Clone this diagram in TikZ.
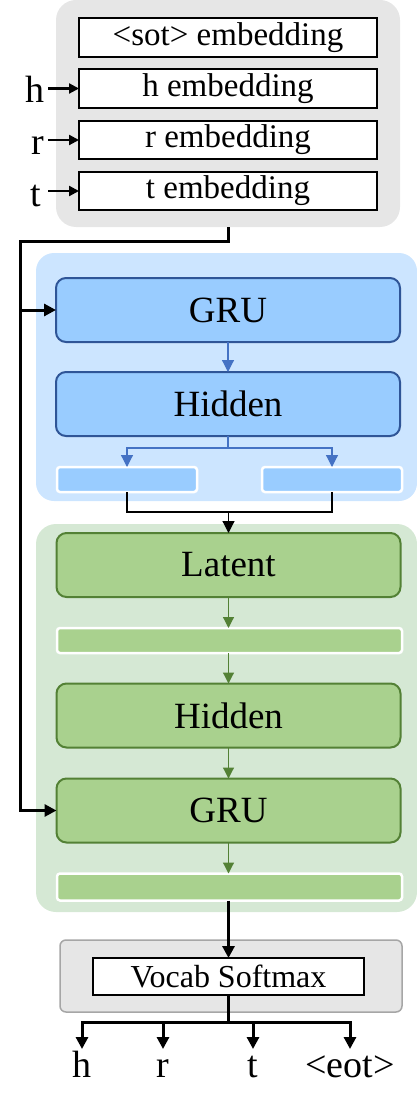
\documentclass[tikz,border=0pt]{standalone}
\usepackage{fontspec}
\setmainfont{Liberation Serif}
\usetikzlibrary{arrows.meta,calc}
\definecolor{grayc}{HTML}{E6E6E6}
\definecolor{grayb}{HTML}{A6A6A6}
\definecolor{bluec}{HTML}{CCE5FF}
\definecolor{bluef}{HTML}{99CCFF}
\definecolor{blueb}{HTML}{2F5597}
\definecolor{bluea}{HTML}{4472C4}
\definecolor{greenc}{HTML}{D5E8D4}
\definecolor{greenf}{HTML}{A9D18E}
\definecolor{greenb}{HTML}{538135}
\begin{document}
\begin{tikzpicture}[x=1pt,y=-1pt,
  every node/.style={inner sep=0pt, outer sep=0pt},
  cont/.style={rectangle, rounded corners=#1},
  embbox/.style={draw=black, line width=2pt, fill=white, minimum width=298, minimum height=38.5, font=\fontsize{33}{36}\selectfont},
  bbox/.style={draw=blueb, line width=2pt, fill=bluef, rounded corners=10, minimum width=344, minimum height=64, font=\fontsize{37}{40}\selectfont},
  gbox/.style={draw=greenb, line width=2pt, fill=greenf, rounded corners=10, minimum width=344, minimum height=64, font=\fontsize{37}{40}\selectfont},
  bbar/.style={draw=white, line width=2.5pt, fill=bluef, rounded corners=3, minimum width=140, minimum height=25},
  gbar/.style={draw=white, line width=2.5pt, fill=greenf, rounded corners=3, minimum width=345, minimum height=25},
  lbl/.style={font=\fontsize{38}{40}\selectfont, text height=28pt, text depth=8pt},
  blk/.style={draw=black, line width=3pt, -{Triangle[width=12pt,length=12pt]}},
  sblk/.style={draw=black, line width=2.2pt, -{Triangle[width=10pt,length=10pt]}},
  barr/.style={draw=bluea, line width=1.2pt, -{Triangle[width=12pt,length=12pt]}},
  garr/.style={draw=greenb, line width=1.2pt, -{Triangle[width=11pt,length=11pt]}},
  tarr/.style={draw=black, line width=1.2pt, -{Triangle[width=12pt,length=12pt]}}
]
\useasboundingbox (0,0) rectangle (417,1110);

% top embedding block
\node[cont=20, fill=grayc, minimum width=344, minimum height=227] (top) at (228,113.5) {};
\node[embbox] (sot) at (228,37.5) {<sot> embedding};
\node[embbox] (hbox) at (228,88.5) {h embedding};
\node[embbox] (rbox) at (228,140) {r embedding};
\node[embbox] (tbox) at (228,191) {t embedding};
\node[lbl, anchor=east] (hl) at (44,93) {h};
\node[lbl, anchor=east] (rl) at (44,145) {r};
\node[lbl, anchor=east] (tl) at (41,197) {t};
\draw[sblk, shorten <=4pt] (hl.east |- hbox.west) -- (hbox.west);
\draw[sblk, shorten <=4pt] (rl.east |- rbox.west) -- (rbox.west);
\draw[sblk, shorten <=7pt] (tl.east |- tbox.west) -- (tbox.west);

% blue encoder
\node[cont=18, fill=bluec, minimum width=381, minimum height=248] (benc) at (226.5,377) {};
\node[bbox] (bgru) at (228,310) {GRU};
\node[bbox] (bhid) at (228,404) {Hidden};
\node[bbar] (barL) at (127,479.5) {};
\node[bbar] (barR) at (332,479.5) {};
\draw[barr] (bgru.south) -- (bhid.north);
\coordinate (bsplit) at ($(bhid.south)+(0,12)$);
\draw[draw=bluea, line width=1.2pt] (bhid.south) -- (bsplit);
\draw[barr] (bsplit) -| (barL.north);
\draw[barr] (bsplit) -| (barR.north);

% green decoder
\node[cont=20, fill=greenc, minimum width=381, minimum height=388] (genc) at (226.5,718) {};
\node[gbox] (lat) at (228.5,565) {Latent};
\node[gbar] (gb1) at (229.5,640.5) {};
\node[gbox] (ghid) at (228.5,715.5) {Hidden};
\node[gbox] (ggru) at (228.5,810.5) {GRU};
\node[gbar, minimum height=27] (gb2) at (229.5,887) {};
\draw[garr] (lat.south) -- (lat.south |- gb1.north);
\draw[garr] (gb1.south -| ghid.north) -- (ghid.north);
\draw[garr] (ghid.south) -- (ggru.north);
\draw[garr] (ggru.south) -- (ggru.south |- gb2.north);

% merge into latent
\coordinate (bjoin) at ($(lat.north)+(0,-21)$);
\draw[black, line width=1.2pt] (barL.south) |- (bjoin) -| (barR.south);
\draw[tarr] (bjoin) -- (lat.north);

% skip connection from embeddings
\coordinate (bend) at (20,241);
\coordinate (jb) at (bend |- bgru.west);
\draw[blk] (top.south) |- (bend) |- (ggru.west);
\draw[blk] (jb) -- (bgru.west);

% vocab softmax
\node[cont=6, draw=grayb, line width=1.5pt, fill=grayc, minimum width=342, minimum height=72] (vcont) at (231,976) {};
\node[draw=black, line width=2pt, fill=white, minimum width=271, minimum height=37, font=\fontsize{32}{34}\selectfont] (vbox) at (228.5,976.5) {Vocab Softmax};
\draw[blk] (gb2.south -| vbox.north) -- (vbox.north);

% outputs
\coordinate (oj) at ($(vbox.south)+(0,27)$);
\draw[black, line width=3pt] (vbox.south) -- (oj);
\node[lbl, anchor=north] (oh) at (82,1049) {h};
\node[lbl, anchor=north] (or) at (163,1049) {r};
\node[lbl, anchor=north] (ot) at (253,1049) {t};
\node[lbl, anchor=north] (oe) at (350,1049) {<eot>};
\draw[blk] (oj) -| (oh.north);
\draw[blk] (oj) -| (or.north);
\draw[blk] (oj) -| (ot.north);
\draw[blk] (oj) -| (oe.north);
\end{tikzpicture}
\end{document}
